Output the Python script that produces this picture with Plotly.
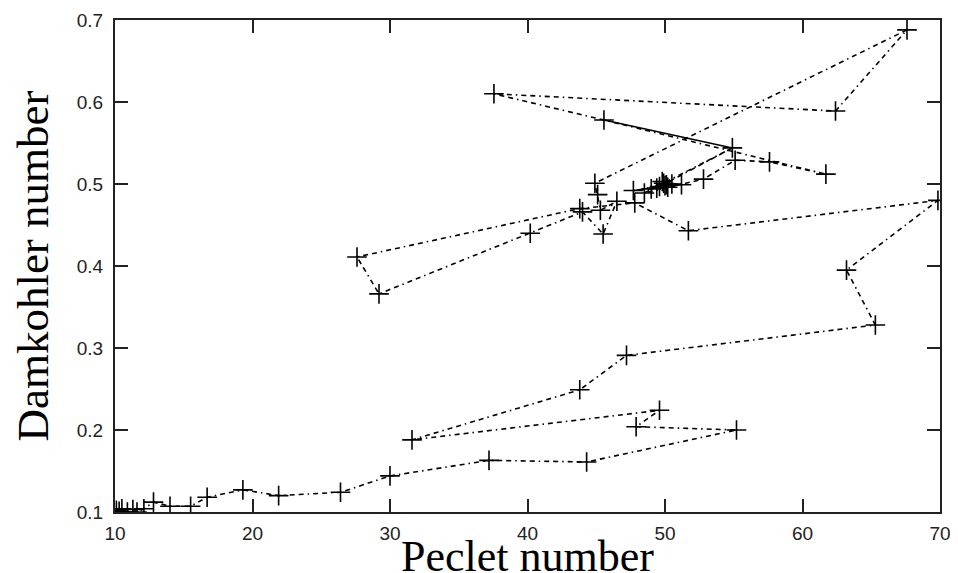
import plotly.graph_objects as go

# Trajectory in (Peclet, Damkohler) space, in path order
peclet = [10.1, 10.5, 10.3, 10.9, 11.3, 11.6, 12.1, 12.8, 14.0, 15.5,
          16.7, 19.3, 21.9, 26.4, 30.0, 37.2, 44.3, 55.2, 47.9, 49.6,
          31.6, 43.8, 47.2, 65.3, 63.2, 69.85, 51.7, 47.8, 43.8, 27.6,
          29.2, 40.2, 44.0, 45.5, 46.5, 45.3, 45.1, 44.9, 67.6, 62.4,
          37.56, 45.56, 61.7, 57.6, 55.1, 52.8, 48.5, 54.9, 49.4, 47.7,
          50.0, 49.0, 50.5, 49.8, 51.2, 49.6, 50.2, 49.9, 50.1]
damkohler = [0.102, 0.104, 0.101, 0.100, 0.103, 0.100, 0.104, 0.112, 0.107, 0.107,
             0.118, 0.127, 0.120, 0.124, 0.144, 0.163, 0.161, 0.200, 0.204, 0.224,
             0.188, 0.249, 0.291, 0.328, 0.395, 0.480, 0.443, 0.477, 0.470, 0.411,
             0.366, 0.440, 0.466, 0.439, 0.479, 0.468, 0.487, 0.501, 0.688, 0.589,
             0.610, 0.578, 0.512, 0.527, 0.529, 0.506, 0.489, 0.544, 0.495, 0.492,
             0.498, 0.494, 0.500, 0.503, 0.499, 0.497, 0.496, 0.501, 0.499]

# Segment that is traversed more than once (appears solid)
solid_peclet = [45.56, 54.9]
solid_damkohler = [0.578, 0.544]

x_ticks = [10, 20, 30, 40, 50, 60, 70]
y_ticks = [0.1, 0.2, 0.3, 0.4, 0.5, 0.6, 0.7]
y_tick_text = ["0.1", "0.2", "0.3", "0.4", "0.5", "0.6", "0.7"]

fig = go.Figure()
fig.add_trace(go.Scatter(
    x=solid_peclet, y=solid_damkohler, mode="lines",
    line=dict(color="black", width=1.6), showlegend=False, hoverinfo="skip"))
fig.add_trace(go.Scatter(
    x=peclet, y=damkohler, mode="lines+markers",
    line=dict(color="black", width=1.6, dash="5px,4px,5px,4px,1.5px,4px"),
    marker=dict(symbol="cross-thin", size=14, line=dict(color="black", width=1.6)),
    showlegend=False))

axis_common = dict(
    showline=True, linecolor="#222", linewidth=2, mirror="ticks",
    ticks="inside", ticklen=13, tickwidth=1.6, tickcolor="#222",
    showgrid=False, zeroline=False,
    tickfont=dict(family="Liberation Sans", size=19, color="#222"),
)

fig.update_xaxes(range=[10, 70], tickvals=x_ticks, ticktext=[str(t) for t in x_ticks],
                 title=dict(text="Peclet number", standoff=0,
                            font=dict(family="Liberation Serif", size=44, color="black")),
                 ticklabelstandoff=3, **axis_common)
fig.update_yaxes(range=[0.1, 0.7], tickvals=y_ticks, ticktext=y_tick_text,
                 title=dict(text="Damkohler number", standoff=18,
                            font=dict(family="Liberation Serif", size=45, color="black")),
                 ticklabelstandoff=6, **axis_common)

# page body has an 8px default margin; compensate so the plot box lands where intended
fig.update_layout(
    width=958, height=573,
    margin=dict(l=107, r=26, t=12, b=69, autoexpand=False),
    plot_bgcolor="white", paper_bgcolor="white",
)

fig.write_html("out.html")
